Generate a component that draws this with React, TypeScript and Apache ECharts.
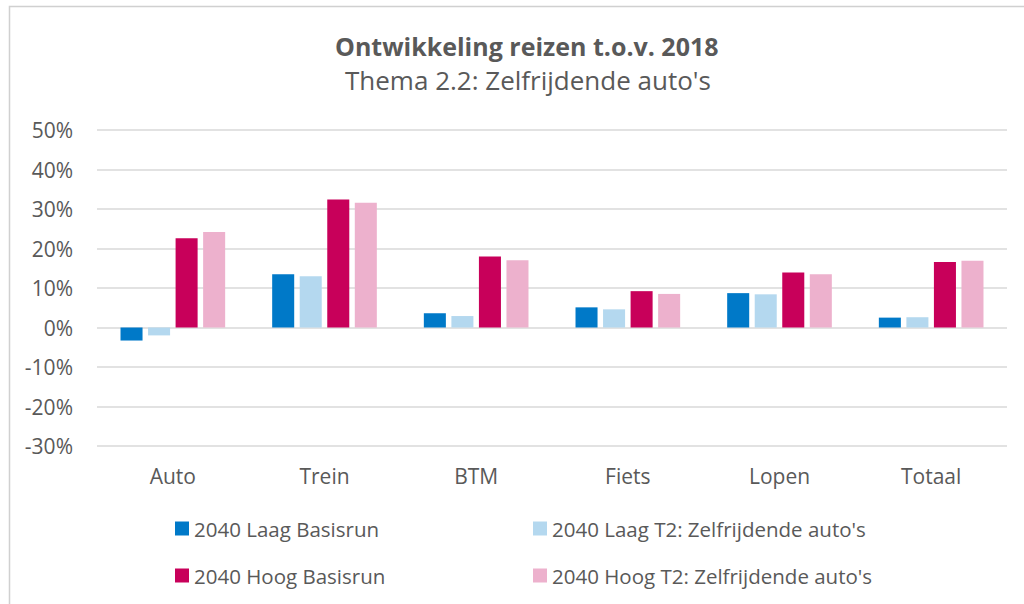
import React, { useEffect, useRef } from "react";
import * as echarts from "echarts";

const categories = ["Auto", "Trein", "BTM", "Fiets", "Lopen", "Totaal"];
const seriesNames = [
  "2040 Laag Basisrun",
  "2040 Laag T2: Zelfrijdende auto's",
  "2040 Hoog Basisrun",
  "2040 Hoog T2: Zelfrijdende auto's",
];
const laagBasis = [-3.3, 13.5, 3.6, 5.1, 8.7, 2.5];
const laagT2 = [-2.0, 13.0, 2.9, 4.6, 8.4, 2.6];
const hoogBasis = [22.6, 32.4, 18.0, 9.2, 13.9, 16.6];
const hoogT2 = [24.2, 31.6, 17.0, 8.5, 13.5, 16.9];
const colors = ["#0079C8", "#B4D8EF", "#C8005A", "#EDB1CD"];
const yTicks = { min: -30, max: 50, interval: 10 };

const FONT = "Open Sans";
const TXT = "#595959";

export default function App() {
  const ref = useRef<HTMLDivElement>(null);
  useEffect(() => {
    if (!ref.current) return;
    const chart = echarts.init(ref.current, null, { renderer: "svg" });
    const data = [laagBasis, laagT2, hoogBasis, hoogT2];
    const legendPos = [
      { left: 175, top: 518 },
      { left: 533, top: 518 },
      { left: 175, top: 565 },
      { left: 533, top: 565 },
    ];
    chart.setOption({
      animation: false,
      backgroundColor: "#fff",
      textStyle: { fontFamily: FONT },
      title: [
        {
          text: "Ontwikkeling reizen t.o.v. 2018",
          left: 330,
          top: 28,
          textStyle: { fontFamily: FONT, fontWeight: "bold", fontSize: 25, color: TXT },
        },
        {
          text: "Thema 2.2: Zelfrijdende auto's",
          left: 340,
          top: 62,
          textStyle: { fontFamily: FONT, fontWeight: "normal", fontSize: 26, color: TXT },
        },
      ],
      legend: seriesNames.map((n, i) => ({
        data: [n],
        left: legendPos[i].left,
        top: legendPos[i].top,
        padding: 0,
        itemWidth: 14,
        itemHeight: 14,
        itemGap: 5,
        icon: "rect",
        selectedMode: false,
        textStyle: { fontFamily: FONT, fontSize: 20.5, color: TXT, padding: [0, 0, 0, 0] },
      })),
      grid: { left: 97, right: 17, top: 130, bottom: 158, containLabel: false },
      xAxis: {
        type: "category",
        data: categories,
        axisLine: { show: false },
        axisTick: { show: false },
        axisLabel: { fontFamily: FONT, fontSize: 21, color: TXT, margin: 19 },
        splitLine: { show: false },
      },
      yAxis: {
        type: "value",
        min: yTicks.min,
        max: yTicks.max,
        interval: yTicks.interval,
        axisLine: { show: false },
        axisTick: { show: false },
        axisLabel: {
          fontFamily: FONT,
          fontSize: 21,
          color: TXT,
          margin: 24,
          formatter: (v: number) => `${v}%`,
        },
        splitLine: { lineStyle: { color: "#d9d9d9", width: 1.5 } },
      },
      graphic: [
        {
          type: "rect",
          left: 7,
          top: 4,
          shape: { x: 0, y: 0, width: 1200, height: 800 },
          style: { fill: "none", stroke: "#d0d0d0", lineWidth: 1.5 },
          silent: true,
          z: -1,
        },
      ],
      series: seriesNames.map((n, i) => ({
        name: n,
        type: "bar",
        data: data[i],
        barGap: "25%",
        barCategoryGap: "31%",
        itemStyle: { color: colors[i] },
      })),
    });
    return () => chart.dispose();
  }, []);
  return (
    <div
      ref={ref}
      style={{ position: "absolute", left: 0, top: 0, width: 1024, height: 604 }}
    />
  );
}
